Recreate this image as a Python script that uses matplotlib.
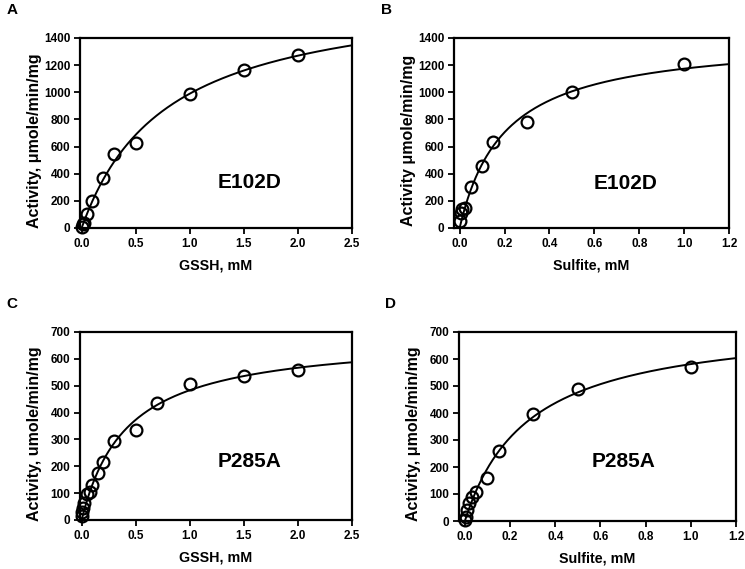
import numpy as np
import matplotlib
matplotlib.use("Agg")
import matplotlib.pyplot as plt

plt.rcParams['font.family'] = ['Liberation Sans', 'DejaVu Sans']
plt.rcParams['font.weight'] = 'bold'

# data
gssh_e102d = [0, 0.01, 0.025, 0.05, 0.1, 0.2, 0.3, 0.5, 1.0, 1.5, 2.0]
act_gssh_e102d = [5, 28, 40, 100, 200, 370, 545, 625, 990, 1165, 1275]

sulf_e102d = [0, 0.005, 0.01, 0.025, 0.05, 0.1, 0.15, 0.3, 0.5, 1.0]
act_sulf_e102d = [50, 110, 140, 150, 300, 460, 637, 780, 1000, 1205]

gssh_p285a = [0, 0.005, 0.01, 0.025, 0.05, 0.075, 0.1, 0.15, 0.2, 0.3, 0.5, 0.7, 1.0, 1.5, 2.0]
act_gssh_p285a = [15, 30, 45, 65, 95, 105, 130, 175, 215, 294, 335, 437, 507, 537, 560]

sulf_p285a = [0, 0.005, 0.01, 0.02, 0.03, 0.05, 0.1, 0.15, 0.3, 0.5, 1.0]
act_sulf_p285a = [5, 15, 40, 65, 90, 108, 158, 258, 398, 490, 570]

panels = [
    ('A', gssh_e102d, act_gssh_e102d, 'GSSH, mM', 'Activity, \u03bcmole/min/mg', 'E102D',
     (80, 38, 352, 228), (-0.015, 2.5), np.arange(0, 2.51, 0.5), '%.1f', (0, 1400), 200, (0.625, 0.242)),
    ('B', sulf_e102d, act_sulf_e102d, 'Sulfite, mM', 'Activity \u03bcmole/min/mg', 'E102D',
     (454, 38, 729, 228), (-0.025, 1.2), np.arange(0, 1.21, 0.2), '%.1f', (0, 1400), 200, (0.624, 0.235)),
    ('C', gssh_p285a, act_gssh_p285a, 'GSSH, mM', 'Activity, umole/min/mg', 'P285A',
     (80, 332, 352, 520), (-0.015, 2.5), np.arange(0, 2.51, 0.5), '%.1f', (0, 700), 100, (0.625, 0.31)),
    ('D', sulf_p285a, act_sulf_p285a, 'Sulfite, mM', 'Activity, \u03bcmole/min/mg', 'P285A',
     (459, 332, 736, 521), (-0.026, 1.2), np.arange(0, 1.21, 0.2), '%.1f', (0, 700), 100, (0.594, 0.314)),
]

W, H = 745, 569
fig = plt.figure(figsize=(W / 100, H / 100), dpi=100)


def mm_fit(x, y):
    # simple Michaelis-Menten least squares: grid over Km, closed-form Vmax
    x = np.asarray(x, float)
    y = np.asarray(y, float)
    best = None
    for km in np.linspace(0.01, 3, 3000):
        f = x / (km + x)
        vmax = np.dot(f, y) / np.dot(f, f)
        err = np.sum((y - vmax * f) ** 2)
        if best is None or err < best[0]:
            best = (err, km, vmax)
    return best[1], best[2]


for letter, xs, ys, xlab, ylab, name, box, xlim, xt, fmt, ylim, ystep, tpos in panels:
    l, t, r, b = box
    ax = fig.add_axes([l / W, 1 - b / H, (r - l) / W, (b - t) / H])

    km, vmax = mm_fit(xs, ys)
    xx = np.linspace(0, xlim[1], 300)
    ax.plot(xx, vmax * xx / (km + xx), color='black', lw=1.4, zorder=2)
    ax.plot(xs, ys, 'o', mfc='none', mec='black', mew=1.6, ms=8.5, zorder=3, clip_on=False)

    ax.set_xlim(*xlim)
    ax.set_ylim(*ylim)
    ax.set_xticks(xt)
    ax.set_xticklabels([fmt % v for v in xt])
    ax.set_yticks(np.arange(ylim[0], ylim[1] + 1, ystep))
    ax.tick_params(direction='out', length=4, width=1.3, labelsize=8.5, pad=3,
                   top=False, right=False)
    for s in ax.spines.values():
        s.set_linewidth(1.6)
    ax.set_xlabel(xlab, fontsize=10.3, fontweight='bold', labelpad=6)
    ax.set_ylabel(ylab, fontsize=11.5, fontweight='bold')
    ax.yaxis.set_label_coords(-38 / (r - l), 0.46)
    ax.text(tpos[0], tpos[1], name, transform=ax.transAxes, fontsize=15,
            fontweight='bold', ha='center', va='center')

    fig.text((l - 68) / W, 1 - (t - 28) / H, letter, fontsize=11, fontweight='bold',
             ha='center', va='center')

fig.savefig('out.png', dpi=100)
